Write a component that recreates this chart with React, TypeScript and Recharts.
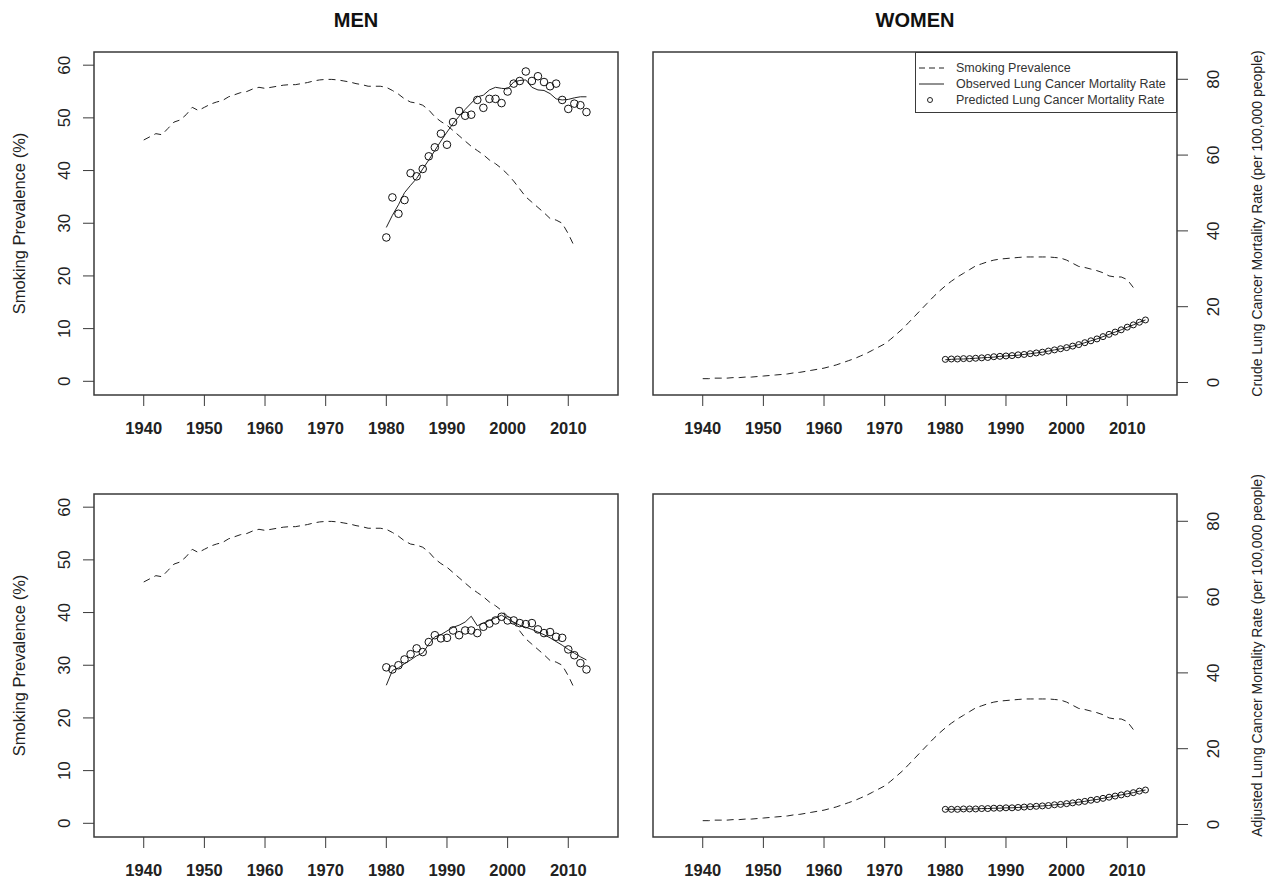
import React from "react";
import {
  ComposedChart,
  Legend,
  Line,
  ReferenceArea,
  Scatter,
  XAxis,
  YAxis,
} from "recharts";

const YEARS = [
  1940, 1941, 1942, 1943, 1944, 1945, 1946, 1947, 1948, 1949,
  1950, 1951, 1952, 1953, 1954, 1955, 1956, 1957, 1958, 1959,
  1960, 1961, 1962, 1963, 1964, 1965, 1966, 1967, 1968, 1969,
  1970, 1971, 1972, 1973, 1974, 1975, 1976, 1977, 1978, 1979,
  1980, 1981, 1982, 1983, 1984, 1985, 1986, 1987, 1988, 1989,
  1990, 1991, 1992, 1993, 1994, 1995, 1996, 1997, 1998, 1999,
  2000, 2001, 2002, 2003, 2004, 2005, 2006, 2007, 2008, 2009,
  2010, 2011, 2012, 2013,
];
const RATE_START = 1980;

// smoking prevalence (%), 1940-2011
const MEN_SMOKING = [
  45.8, 46.4, 47.0, 46.8, 48.0, 49.2, 49.6, 50.6, 52.0, 51.4,
  52.0, 52.6, 53.0, 53.3, 54.0, 54.4, 54.8, 55.0, 55.5, 55.8,
  55.6, 55.8, 56.0, 56.2, 56.3, 56.3, 56.5, 56.7, 57.0, 57.2,
  57.3, 57.3, 57.2, 57.0, 56.8, 56.5, 56.3, 56.0, 56.0, 56.0,
  55.8, 55.2, 54.5, 53.6, 53.0, 52.8, 52.4, 51.5, 50.2, 49.3,
  48.6, 47.6, 46.6, 45.6, 44.6, 43.8, 43.0, 42.0, 41.3, 40.4,
  39.3, 38.0, 36.5, 35.0, 34.0, 33.0, 32.0, 30.9, 30.6, 30.0,
  28.0, 25.6,
];
const WOMEN_SMOKING = [
  0.5, 0.5, 0.6, 0.6, 0.6, 0.7, 0.7, 0.8, 0.8, 0.9,
  1.0, 1.1, 1.2, 1.3, 1.4, 1.6, 1.7, 1.9, 2.1, 2.3,
  2.5, 2.8, 3.1, 3.5, 3.9, 4.3, 4.8, 5.3, 5.9, 6.5,
  7.1, 8.0, 9.0, 10.0, 11.2, 12.4, 13.6, 14.8, 16.0, 17.1,
  18.1, 19.0, 19.8, 20.5, 21.2, 21.9, 22.3, 22.7, 23.0, 23.2,
  23.3, 23.4, 23.5, 23.6, 23.6, 23.6, 23.6, 23.6, 23.5, 23.4,
  23.0, 22.4, 21.8, 21.6, 21.3, 21.0, 20.6, 20.0, 19.8, 19.8,
  19.3, 17.8,
];

// lung cancer mortality, 1980-2013 (men drawn against the prevalence scale as in the figure)
const MEN_CRUDE_OBSERVED = [
  29.2, 31.5, 33.5, 35.8, 37.2, 38.5, 40.3, 42.0, 43.8, 45.6,
  47.3, 48.9, 50.3, 51.6, 52.8, 54.0, 54.3, 55.3, 55.8, 55.6,
  55.5, 56.8, 57.1, 57.2, 55.8, 55.3, 55.2, 54.6, 53.6, 53.4,
  53.5, 53.8, 54.0, 54.0,
];
const MEN_CRUDE_PREDICTED = [
  27.3, 34.9, 31.8, 34.4, 39.5, 38.9, 40.3, 42.7, 44.4, 47.0,
  44.9, 49.2, 51.3, 50.4, 50.6, 53.4, 51.9, 53.6, 53.6, 52.8,
  55.0, 56.5, 57.0, 58.8, 57.0, 57.9, 56.8, 56.0, 56.5, 53.4,
  51.7, 52.7, 52.4, 51.1,
];
const MEN_ADJ_OBSERVED = [
  26.2, 29.0, 29.5, 30.3, 31.0, 31.8, 32.3, 34.0, 35.4, 35.8,
  36.5, 37.2, 37.6, 38.2, 39.3, 37.5, 38.0, 38.5, 39.0, 39.5,
  38.8, 38.2, 37.6, 37.2, 36.8, 36.3, 35.8, 35.2, 34.5, 33.8,
  33.0, 32.3, 31.6, 31.0,
];
const MEN_ADJ_PREDICTED = [
  29.6, 29.2, 30.0, 31.1, 32.1, 33.2, 32.5, 34.4, 35.7, 35.1,
  35.2, 36.6, 35.7, 36.6, 36.6, 36.1, 37.3, 37.9, 38.5, 39.2,
  38.5, 38.5, 38.0, 37.8, 38.0, 36.8, 36.1, 36.3, 35.4, 35.2,
  33.0, 31.9, 30.4, 29.2,
];
const WOMEN_CRUDE_OBSERVED = [
  6.0, 6.1, 6.2, 6.2, 6.3, 6.4, 6.5, 6.6, 6.7, 6.9,
  7.0, 7.1, 7.2, 7.4, 7.6, 7.8, 8.0, 8.3, 8.6, 8.9,
  9.2, 9.6, 10.0, 10.5, 11.0, 11.5, 12.1, 12.7, 13.3, 13.9,
  14.6, 15.2, 15.9, 16.5,
];
const WOMEN_CRUDE_PREDICTED = [
  6.1, 6.2, 6.2, 6.3, 6.3, 6.4, 6.5, 6.6, 6.8, 6.9,
  7.0, 7.1, 7.3, 7.4, 7.6, 7.8, 8.0, 8.3, 8.6, 8.9,
  9.2, 9.6, 10.0, 10.5, 11.0, 11.5, 12.1, 12.7, 13.3, 13.9,
  14.6, 15.2, 15.9, 16.5,
];
const WOMEN_ADJ_OBSERVED = [
  4.0, 4.0, 4.0, 4.0, 4.1, 4.1, 4.2, 4.2, 4.3, 4.3,
  4.4, 4.4, 4.5, 4.6, 4.7, 4.8, 4.9, 5.0, 5.2, 5.3,
  5.5, 5.7, 5.9, 6.1, 6.4, 6.6, 6.9, 7.2, 7.5, 7.8,
  8.1, 8.4, 8.8, 9.1,
];
const WOMEN_ADJ_PREDICTED = [
  4.0, 4.0, 4.0, 4.1, 4.1, 4.1, 4.2, 4.2, 4.3, 4.3,
  4.4, 4.4, 4.5, 4.6, 4.7, 4.8, 4.9, 5.0, 5.2, 5.3,
  5.5, 5.7, 5.9, 6.1, 6.4, 6.6, 6.9, 7.2, 7.5, 7.8,
  8.1, 8.4, 8.8, 9.1,
];

const X_TICKS = [1940, 1950, 1960, 1970, 1980, 1990, 2000, 2010];
const PREV_TICKS = [0, 10, 20, 30, 40, 50, 60];
const RATE_TICKS = [0, 20, 40, 60, 80];
const X_DOMAIN: [number, number] = [1931.8, 2018.2];
const PREV_DOMAIN: [number, number] = [-2.6, 62.5];
const RATE_DOMAIN: [number, number] = [-3.3, 87.2];

const INK = "#222";
const FRAME = "#3a3a3a";
const FONT = "'Liberation Sans', Arial, Helvetica, sans-serif";
const DASH = "7 5";

function buildRows(smoking: number[], observed: number[]) {
  return YEARS.map((year, i) => ({
    year,
    smoking: smoking[i] ?? null,
    observed: year >= RATE_START ? observed[year - RATE_START] ?? null : null,
  }));
}

function buildPoints(predicted: number[]) {
  return YEARS.filter((y) => y >= RATE_START).map((year, i) => ({
    year,
    predicted: predicted[i],
  }));
}

// R style: tick labels parallel to the axis
const RotatedTick = (props: any) => {
  const { x, y, payload } = props;
  return (
    <text
      x={x}
      y={y}
      transform={`rotate(-90, ${x}, ${y})`}
      textAnchor="middle"
      fontSize={17}
      fontFamily={FONT}
      fill={INK}
    >
      {payload.value}
    </text>
  );
};

const axisTitle = (text: string, dx: number, size: number, dy = 0) => (props: any) => {
  const vb = props.viewBox;
  const x = vb.x + dx;
  const y = vb.y + vb.height / 2 + dy;
  return (
    <text
      x={x}
      y={y}
      transform={`rotate(-90, ${x}, ${y})`}
      textAnchor="middle"
      fontSize={size}
      fontFamily={FONT}
      fill={INK}
    >
      {text}
    </text>
  );
};

const OpenCircle = (r: number) => (props: any) => (
  <circle cx={props.cx} cy={props.cy} r={r} fill="none" stroke="#111" strokeWidth={1} />
);

function LegendBox() {
  const row = { display: "flex", alignItems: "center", height: 16 } as const;
  return (
    <div
      style={{
        width: 262,
        height: 61,
        boxSizing: "border-box",
        border: `1px solid ${FRAME}`,
        background: "#fff",
        paddingTop: 7,
        fontFamily: FONT,
        fontSize: 12.5,
        color: "#333",
      }}
    >
      <div style={row}>
        <svg width={40} height={16}>
          <line x1={3} x2={28} y1={8} y2={8} stroke={INK} strokeDasharray="6 4" />
        </svg>
        <span>Smoking Prevalence</span>
      </div>
      <div style={row}>
        <svg width={40} height={16}>
          <line x1={3} x2={28} y1={8} y2={8} stroke={INK} />
        </svg>
        <span>Observed Lung Cancer Mortality Rate</span>
      </div>
      <div style={row}>
        <svg width={40} height={16}>
          <circle cx={14} cy={8} r={2.5} fill="none" stroke={INK} />
        </svg>
        <span>Predicted Lung Cancer Mortality Rate</span>
      </div>
    </div>
  );
}

const xAxisProps = {
  dataKey: "year",
  type: "number" as const,
  domain: X_DOMAIN,
  ticks: X_TICKS,
  allowDataOverflow: true,
  interval: 0 as const,
  height: 55,
  tickSize: 11,
  tickMargin: 16,
  axisLine: false,
  tickLine: { stroke: FRAME },
  tick: { fontSize: 16.5, fontWeight: "bold", fill: INK, fontFamily: FONT },
};

function MenPanel({ smoking, observed, predicted }: { smoking: number[]; observed: number[]; predicted: number[] }) {
  const rows = buildRows(smoking, observed);
  return (
    <ComposedChart width={640} height={450} data={rows} margin={{ top: 52, right: 22, bottom: 0, left: 0 }}>
      <XAxis {...xAxisProps} />
      <YAxis
        yAxisId="prev"
        domain={PREV_DOMAIN}
        ticks={PREV_TICKS}
        allowDataOverflow
        width={94}
        tickSize={11}
        tickMargin={13}
        axisLine={false}
        tickLine={{ stroke: FRAME }}
        tick={<RotatedTick />}
        label={axisTitle("Smoking Prevalence (%)", 25, 16.5)}
      />
      <ReferenceArea
        yAxisId="prev"
        x1={X_DOMAIN[0]}
        x2={X_DOMAIN[1]}
        y1={PREV_DOMAIN[0]}
        y2={PREV_DOMAIN[1]}
        fill="none"
        stroke={FRAME}
        strokeWidth={1.5}
      />
      <Line yAxisId="prev" dataKey="smoking" stroke={INK} strokeWidth={1} strokeDasharray={DASH} dot={false} isAnimationActive={false} />
      <Line yAxisId="prev" dataKey="observed" stroke={INK} strokeWidth={1} dot={false} isAnimationActive={false} />
      <Scatter yAxisId="prev" data={buildPoints(predicted)} dataKey="predicted" shape={OpenCircle(3.8)} isAnimationActive={false} />
    </ComposedChart>
  );
}

function WomenPanel({
  smoking,
  observed,
  predicted,
  rateLabel,
  labelShift,
  showLegend,
}: {
  smoking: number[];
  observed: number[];
  predicted: number[];
  rateLabel: string;
  labelShift: number;
  showLegend: boolean;
}) {
  const rows = buildRows(smoking, observed);
  return (
    <ComposedChart width={631} height={450} data={rows} margin={{ top: 52, right: 0, bottom: 0, left: 13 }}>
      <XAxis {...xAxisProps} />
      <YAxis yAxisId="prev" hide domain={PREV_DOMAIN} allowDataOverflow />
      <YAxis
        yAxisId="rate"
        orientation="right"
        domain={RATE_DOMAIN}
        ticks={RATE_TICKS}
        allowDataOverflow
        width={94}
        tickSize={11}
        tickMargin={31}
        axisLine={false}
        tickLine={{ stroke: FRAME }}
        tick={<RotatedTick />}
        label={axisTitle(rateLabel, 85, 14, labelShift)}
      />
      <ReferenceArea
        yAxisId="rate"
        x1={X_DOMAIN[0]}
        x2={X_DOMAIN[1]}
        y1={RATE_DOMAIN[0]}
        y2={RATE_DOMAIN[1]}
        fill="none"
        stroke={FRAME}
        strokeWidth={1.5}
      />
      <Line yAxisId="prev" dataKey="smoking" stroke={INK} strokeWidth={1} strokeDasharray={DASH} dot={false} isAnimationActive={false} />
      <Line yAxisId="rate" dataKey="observed" stroke={INK} strokeWidth={1} dot={false} isAnimationActive={false} />
      <Scatter yAxisId="rate" data={buildPoints(predicted)} dataKey="predicted" shape={OpenCircle(3)} isAnimationActive={false} />
      {showLegend && (
        <Legend
          layout="vertical"
          align="center"
          verticalAlign="middle"
          content={() => <LegendBox />}
          wrapperStyle={{ top: 52, left: 275, width: 262, height: 61 }}
        />
      )}
    </ComposedChart>
  );
}

const titleStyle = (left: number): React.CSSProperties => ({
  position: "absolute",
  left,
  top: 10,
  width: 524,
  textAlign: "center",
  fontFamily: FONT,
  fontWeight: "bold",
  fontSize: 20,
  lineHeight: "20px",
  color: "#111",
});

export default function App() {
  return (
    <div style={{ position: "absolute", left: 0, top: 0, width: 1271, height: 879, background: "#fff" }}>
      <div style={titleStyle(94)}>MEN</div>
      <div style={titleStyle(653)}>WOMEN</div>
      <div style={{ position: "absolute", left: 0, top: 0 }}>
        <MenPanel smoking={MEN_SMOKING} observed={MEN_CRUDE_OBSERVED} predicted={MEN_CRUDE_PREDICTED} />
      </div>
      <div style={{ position: "absolute", left: 640, top: 0 }}>
        <WomenPanel
          smoking={WOMEN_SMOKING}
          observed={WOMEN_CRUDE_OBSERVED}
          predicted={WOMEN_CRUDE_PREDICTED}
          rateLabel="Crude Lung Cancer Mortality Rate (per 100,000 people)"
          labelShift={0}
          showLegend
        />
      </div>
      <div style={{ position: "absolute", left: 0, top: 442 }}>
        <MenPanel smoking={MEN_SMOKING} observed={MEN_ADJ_OBSERVED} predicted={MEN_ADJ_PREDICTED} />
      </div>
      <div style={{ position: "absolute", left: 640, top: 442 }}>
        <WomenPanel
          smoking={WOMEN_SMOKING}
          observed={WOMEN_ADJ_OBSERVED}
          predicted={WOMEN_ADJ_PREDICTED}
          rateLabel="Adjusted Lung Cancer Mortality Rate (per 100,000 people)"
          labelShift={-10}
          showLegend={false}
        />
      </div>
    </div>
  );
}
